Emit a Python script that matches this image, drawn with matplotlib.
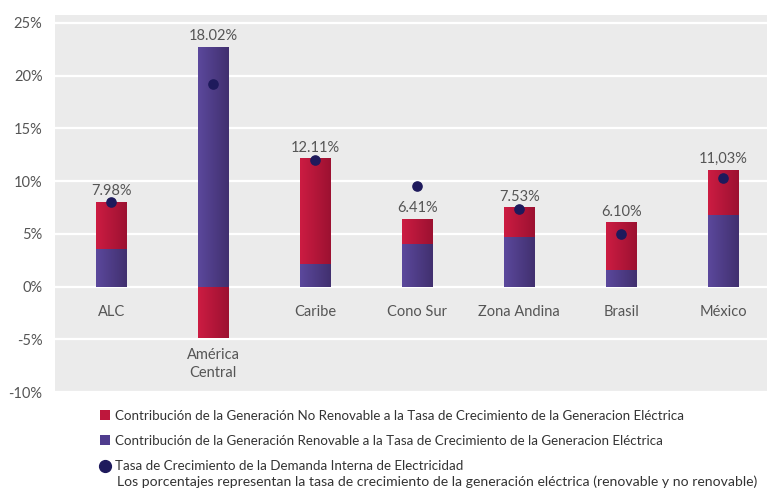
import matplotlib
matplotlib.use("Agg")
import matplotlib.pyplot as plt
import numpy as np
from matplotlib.colors import LinearSegmentedColormap
from matplotlib.lines import Line2D
from matplotlib.patches import Patch

categories = ["ALC", "América\nCentral", "Caribe", "Cono Sur", "Zona Andina", "Brasil", "México"]
renovable = [3.6, 22.7, 2.1, 4.0, 4.7, 1.6, 6.8]
no_renovable = [4.4, -4.85, 10.05, 2.4, 2.8, 4.5, 4.25]
demanda = [8.0, 19.2, 12.0, 9.5, 7.35, 5.0, 10.3]
pct_labels = ["7.98%", "18.02%", "12.11%", "6.41%", "7.53%", "6.10%", "11,03%"]
yticks = [-10, -5, 0, 5, 10, 15, 20, 25]

legend_labels = [
    "Contribución de la Generación No Renovable a la Tasa de Crecimiento de la Generacion Eléctrica",
    "Contribución de la Generación Renovable a la Tasa de Crecimiento de la Generacion Eléctrica",
    "Tasa de Crecimiento de la Demanda Interna de Electricidad",
]
note = "Los porcentajes representan la tasa de crecimiento de la generación eléctrica (renovable y no renovable)"

RED = "#be173c"
BLUE = "#4f3c8e"
DOT = "#1e1a5c"
BG = "#ebebeb"
TXT = "#555555"

plt.rcParams["font.family"] = ["Lato", "DejaVu Sans"]

fig = plt.figure(figsize=(7.68, 4.92), dpi=100)
ax = fig.add_axes([55 / 768, 1 - 392 / 492, 712 / 768, 377 / 492])
ax.set_facecolor(BG)

x = np.arange(len(categories))
w = 0.3
blue_bars = ax.bar(x, renovable, width=w, color=BLUE, zorder=3)
red_bottom = [r if n > 0 else 0 for r, n in zip(renovable, no_renovable)]
red_bars = ax.bar(x, no_renovable, width=w, bottom=red_bottom, color=RED, zorder=3)

def grad(bars, c1, c2):
    cmap = LinearSegmentedColormap.from_list("g", [c1, c2])
    for p in bars:
        bx, by = p.get_x(), p.get_y()
        bw, bh = p.get_width(), p.get_height()
        y0, y1 = sorted([by, by + bh])
        im = ax.imshow(np.linspace(0, 1, 64).reshape(1, -1), cmap=cmap, aspect="auto",
                       extent=[bx, bx + bw, y0, y1], zorder=3.5, interpolation="bilinear")
        im.set_clip_path(p)

grad(red_bars, "#cc1c42", "#9c1131")
grad(blue_bars, "#5b489c", "#41306f")

ax.scatter(x, demanda, s=44, color=DOT, zorder=5)

for i in range(len(x)):
    top = max(renovable[i], red_bottom[i] + max(no_renovable[i], 0))
    ax.text(x[i], top + 0.35, pct_labels[i], ha="center", va="bottom", fontsize=10.5, color=TXT)
    low = min(0, no_renovable[i])
    ypos = low - 0.95 if low < 0 else -1.75
    ax.text(x[i], ypos, categories[i], ha="center", va="top", fontsize=10.5, color=TXT,
            multialignment="center", linespacing=1.4)

ax.set_xlim(-0.55, 6.43)
ax.set_ylim(-10, 25.75)
ax.set_yticks(yticks)
ax.set_yticklabels([f"{t}%" for t in yticks], fontsize=10.5, color=TXT)
ax.set_xticks([])
ax.tick_params(axis="y", length=0, pad=9)
ax.grid(axis="y", color="white", linewidth=1.6, zorder=1)
ax.set_axisbelow(True)
for s in ax.spines.values():
    s.set_visible(False)

handles = [
    Patch(facecolor=RED, edgecolor="none"),
    Patch(facecolor=BLUE, edgecolor="none"),
    Line2D([], [], marker="o", linestyle="none", markersize=8.5, color=DOT),
]
leg = fig.legend(handles, legend_labels, loc="upper left", bbox_to_anchor=(93 / 768, 1 - 403 / 492),
                 frameon=False, fontsize=9.6, handlelength=0.75, handleheight=0.75, handletextpad=0.4,
                 labelspacing=1.0, borderpad=0, labelcolor="#333333")
fig.text(117 / 768, 1 - 482 / 492, note, fontsize=10.1, color="#333333", va="center", ha="left")

fig.savefig("out.png", dpi=100, facecolor="white")
